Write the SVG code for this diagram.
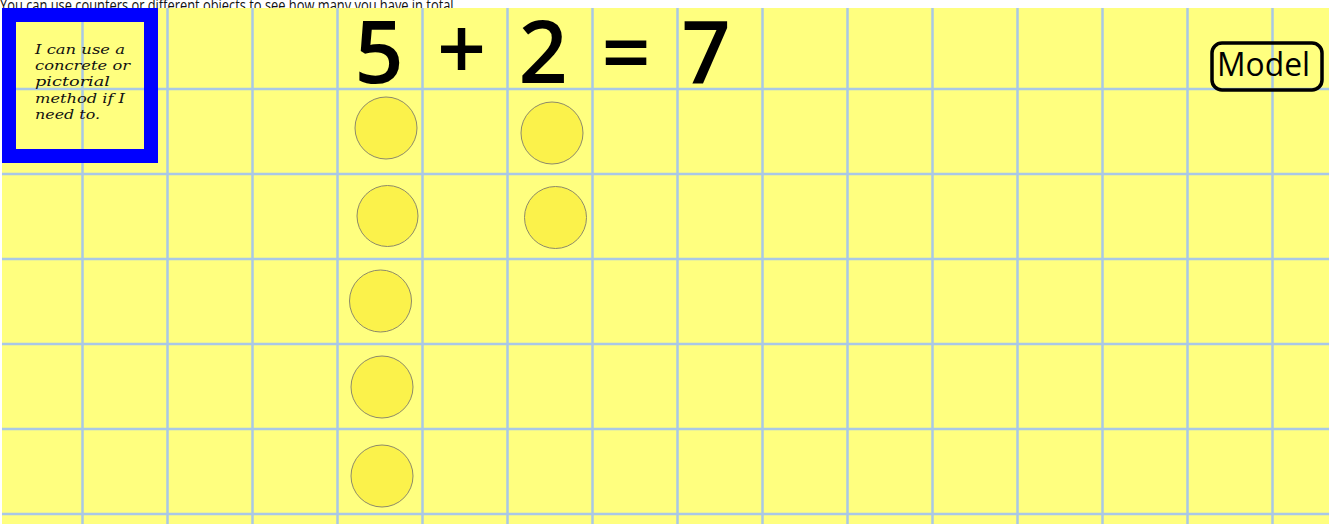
<svg xmlns="http://www.w3.org/2000/svg" width="1337" height="524" viewBox="0 0 1337 524">
<style>
.grid line{stroke:#a9c8e6;stroke-width:2.5}
.counter{fill:#fbf24b;stroke:#8d8a6a;stroke-width:1}
.eq{font-family:"Open Sans","DejaVu Sans",sans-serif;font-size:86px;font-weight:600;fill:#000;text-anchor:middle}
.note{font-family:"DejaVu Serif","Liberation Serif",serif;font-style:italic;font-size:12px;fill:#111}
</style>
<rect x="0" y="0" width="1337" height="524" fill="#ffffff"/>
<text x="0" y="10.5" font-family="Open Sans, Liberation Sans, sans-serif" font-size="17" fill="#111" textLength="457" lengthAdjust="spacingAndGlyphs">You can use counters or different objects to see how many you have in total.</text>
<rect x="2" y="8" width="1327" height="516" fill="#ffff7f"/>
<g class="grid" id="grid">
<line x1="82.5" y1="8" x2="82.5" y2="524"/>
<line x1="167.5" y1="8" x2="167.5" y2="524"/>
<line x1="252.5" y1="8" x2="252.5" y2="524"/>
<line x1="337.5" y1="8" x2="337.5" y2="524"/>
<line x1="422.5" y1="8" x2="422.5" y2="524"/>
<line x1="507.5" y1="8" x2="507.5" y2="524"/>
<line x1="592.5" y1="8" x2="592.5" y2="524"/>
<line x1="677.5" y1="8" x2="677.5" y2="524"/>
<line x1="762.5" y1="8" x2="762.5" y2="524"/>
<line x1="847.5" y1="8" x2="847.5" y2="524"/>
<line x1="932.5" y1="8" x2="932.5" y2="524"/>
<line x1="1017.5" y1="8" x2="1017.5" y2="524"/>
<line x1="1102.5" y1="8" x2="1102.5" y2="524"/>
<line x1="1187.5" y1="8" x2="1187.5" y2="524"/>
<line x1="1272.5" y1="8" x2="1272.5" y2="524"/>
<line x1="2" y1="89" x2="1329" y2="89"/>
<line x1="2" y1="174" x2="1329" y2="174"/>
<line x1="2" y1="259" x2="1329" y2="259"/>
<line x1="2" y1="344" x2="1329" y2="344"/>
<line x1="2" y1="429" x2="1329" y2="429"/>
<line x1="2" y1="514" x2="1329" y2="514"/>
</g>
<g id="target-box">
<rect x="9" y="15" width="142" height="141" fill="none" stroke="#0000ff" stroke-width="14"/>
<text class="note" x="35" y="54" textLength="90" lengthAdjust="spacingAndGlyphs">I can use a</text>
<text class="note" x="35" y="70" textLength="95" lengthAdjust="spacingAndGlyphs">concrete or</text>
<text class="note" x="35" y="86" textLength="75" lengthAdjust="spacingAndGlyphs">pictorial</text>
<text class="note" x="35" y="103" textLength="90" lengthAdjust="spacingAndGlyphs">method if I</text>
<text class="note" x="35" y="119" textLength="65" lengthAdjust="spacingAndGlyphs">need to.</text>
</g>
<g id="equation">
<text class="eq" x="379" y="83">5</text>
<text class="eq" x="461.5" y="80">+</text>
<text class="eq" x="543" y="83">2</text>
<text class="eq" x="626" y="83">=</text>
<text class="eq" x="706" y="83">7</text>
</g>
<g id="model-label">
<rect x="1212" y="43" width="110" height="47" rx="10" ry="10" fill="none" stroke="#000" stroke-width="3.5"/>
<text x="1263.5" y="76" font-family="Open Sans, DejaVu Sans, sans-serif" font-size="32" text-anchor="middle" fill="#000" textLength="93" lengthAdjust="spacingAndGlyphs">Model</text>
</g>
<g id="counters">
<circle class="counter" cx="386" cy="128" r="31"/>
<circle class="counter" cx="552" cy="133" r="31"/>
<circle class="counter" cx="387.5" cy="216" r="30.5"/>
<circle class="counter" cx="555.5" cy="217.5" r="31"/>
<circle class="counter" cx="380.5" cy="301" r="31"/>
<circle class="counter" cx="382" cy="387" r="31"/>
<circle class="counter" cx="382" cy="476" r="31"/>
</g>
<g id="connectors"/>
</svg>
